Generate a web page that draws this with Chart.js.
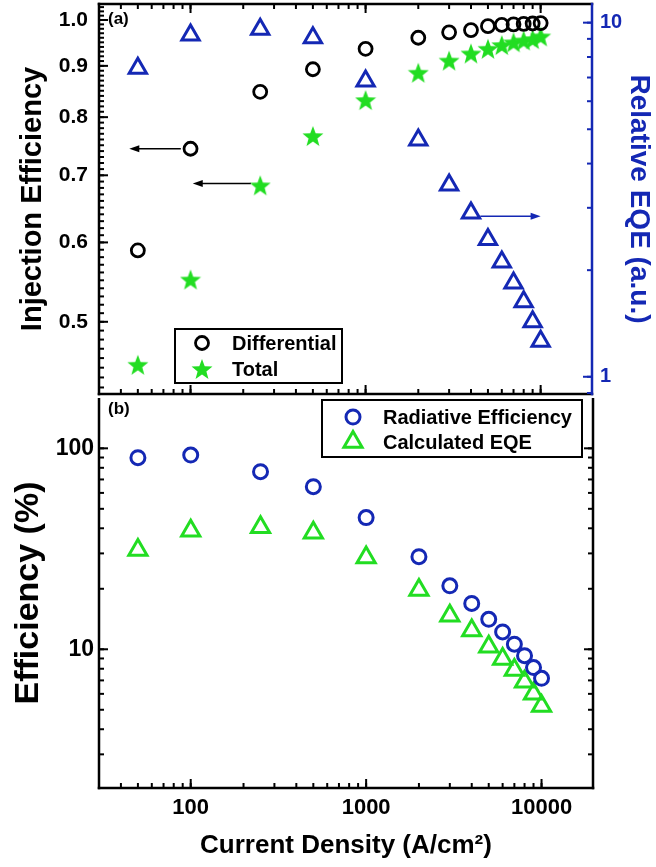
<!DOCTYPE html>
<html>
<head>
<meta charset="utf-8">
<script src="https://cdn.jsdelivr.net/npm/chart.js@4/dist/chart.umd.min.js"></script>
<style>
  html, body { margin: 0; padding: 0; background: #fff; }
  #wrap { position: relative; width: 656px; height: 867px; overflow: hidden; background: #fff; }
  #topChart { position: absolute; left: 0; top: 0; }
  #bottomChart { position: absolute; left: 0; top: 398px; }
</style>
</head>
<body>
<div id="wrap">
  <canvas id="topChart" width="656" height="398"></canvas>
  <canvas id="bottomChart" width="656" height="469"></canvas>
</div>
<script>
// current density (A/cm2), shared by both panels
const current = [50, 100, 250, 500, 1000, 2000, 3000, 4000, 5000, 6000, 7000, 8000, 9000, 10000];

// panel (a)
const differential = [0.589, 0.744, 0.848, 0.893, 0.936, 0.960, 0.972, 0.977, 0.986, 0.989, 0.990, 0.991, 0.992, 0.993];
const total = [0.453, 0.551, 0.684, 0.766, 0.832, 0.886, 0.911, 0.926, 0.936, 0.944, 0.950, 0.954, 0.957, 0.963];
const relativeEQE = [7.43, 9.23, 9.58, 9.07, 6.84, 4.66, 3.48, 2.90, 2.44, 2.11, 1.84, 1.63, 1.43, 1.26];

// panel (b)
const radiative = [89.8, 92.6, 76.5, 64.4, 45.2, 28.9, 20.7, 16.9, 14.1, 12.2, 10.6, 9.29, 8.11, 7.17];
const calcEQE = [31.2, 38.9, 40.5, 38.0, 28.6, 19.7, 14.7, 12.4, 10.3, 8.95, 7.89, 6.90, 6.00, 5.22];

// tick labels
const xTicks = [100, 1000, 10000];
const injTicks = [0.5, 0.6, 0.7, 0.8, 0.9, 1.0];
const eqeTicks = [1, 10];
const effTicks = [10, 100];

const BLUE = '#1428b4';
const GREEN = '#22dd22';
const FONT = "'Liberation Sans', Arial, sans-serif";

function pts(ys) {
    return current.map((x, i) => ({ x: x, y: ys[i] }));
}

// filled five point star used as point style
function makeStar(size, color) {
    const c = document.createElement('canvas');
    c.width = c.height = size;
    const g = c.getContext('2d');
    const R = size / 2, r = R * 0.42;
    g.beginPath();
    for (let i = 0; i < 10; i++) {
        const a = -Math.PI / 2 + i * Math.PI / 5;
        const rad = i % 2 ? r : R;
        g.lineTo(R + rad * Math.cos(a), R + 1 + rad * Math.sin(a));
    }
    g.closePath();
    g.fillStyle = color;
    g.fill();
    return c;
}
const star = makeStar(22, GREEN);

// log minor tick values (1..9 x 10^n) between min and max
function logMinor(min, max) {
    const out = [];
    for (let e = Math.floor(Math.log10(min)); e <= Math.ceil(Math.log10(max)); e++) {
        for (let m = 1; m < 10; m++) {
            const v = m * Math.pow(10, e);
            if (v >= min && v <= max) out.push(v);
        }
    }
    return out;
}

function drawMarker(ctx, ds, x, y) {
    ctx.save();
    if (ds.pointStyle instanceof HTMLCanvasElement) {
        ctx.drawImage(ds.pointStyle, x - ds.pointStyle.width / 2, y - ds.pointStyle.height / 2);
        ctx.restore();
        return;
    }
    ctx.strokeStyle = ds.borderColor;
    ctx.lineWidth = ds.pointBorderWidth;
    const r = ds.pointRadius;
    ctx.beginPath();
    if (ds.pointStyle === 'triangle') {
        for (let i = 0; i < 3; i++) {
            const a = i * 2 * Math.PI / 3;
            ctx.lineTo(x + Math.sin(a) * r, y - Math.cos(a) * r);
        }
        ctx.closePath();
    } else {
        ctx.arc(x, y, r, 0, Math.PI * 2);
    }
    ctx.stroke();
    ctx.restore();
}

// frame with inward ticks, drawn through the chart scales
const framePlugin = {
    id: 'frame',
    afterDraw(chart, args, opts) {
        const ctx = chart.ctx, a = chart.chartArea;
        ctx.save();
        ctx.lineCap = 'square';
        opts.sides.forEach(s => {
            const scale = chart.scales[s.scale];
            ctx.strokeStyle = s.color || '#000';
            ctx.lineWidth = 2.5;
            ctx.beginPath();
            if (s.edge === 'left') { ctx.moveTo(a.left, a.top); ctx.lineTo(a.left, a.bottom); }
            if (s.edge === 'right') { ctx.moveTo(a.right, a.top); ctx.lineTo(a.right, a.bottom); }
            if (s.edge === 'top') { ctx.moveTo(a.left, a.top); ctx.lineTo(a.right, a.top); }
            if (s.edge === 'bottom') { ctx.moveTo(a.left, a.bottom); ctx.lineTo(a.right, a.bottom); }
            ctx.stroke();
            ctx.lineWidth = 2;
            const put = (v, len) => {
                if (v < scale.min || v > scale.max) return;
                const p = scale.getPixelForValue(v);
                ctx.beginPath();
                if (s.edge === 'left') { ctx.moveTo(a.left, p); ctx.lineTo(a.left + len, p); }
                if (s.edge === 'right') { ctx.moveTo(a.right, p); ctx.lineTo(a.right - len, p); }
                if (s.edge === 'top') { ctx.moveTo(p, a.top); ctx.lineTo(p, a.top + len); }
                if (s.edge === 'bottom') { ctx.moveTo(p, a.bottom); ctx.lineTo(p, a.bottom - len); }
                ctx.stroke();
            };
            s.minor.forEach(v => put(v, 4));
            s.major.forEach(v => put(v, 8));
        });
        ctx.restore();
    }
};

// legend box placed inside the plot
const boxLegend = {
    id: 'boxLegend',
    afterDraw(chart, args, opts) {
        const ctx = chart.ctx, b = opts.box;
        ctx.save();
        ctx.strokeStyle = '#000';
        ctx.lineWidth = 2;
        ctx.strokeRect(b.left, b.top, b.right - b.left, b.bottom - b.top);
        ctx.font = 'bold 20px ' + FONT;
        ctx.fillStyle = '#000';
        ctx.textBaseline = 'middle';
        opts.items.forEach((idx, i) => {
            const ds = chart.data.datasets[idx];
            const y = opts.rowY[i];
            drawMarker(ctx, ds, opts.markerX, y);
            ctx.fillText(ds.label, opts.textX, y + 1);
        });
        ctx.restore();
    }
};

// arrows and the panel letter
const notes = {
    id: 'notes',
    afterDraw(chart, args, opts) {
        const ctx = chart.ctx, a = chart.chartArea;
        ctx.save();
        (opts.arrows || []).forEach(ar => {
            const xs = chart.scales.x, ys = chart.scales[ar.axis];
            const x1 = xs.getPixelForValue(ar.from), x2 = xs.getPixelForValue(ar.to);
            const y = ys.getPixelForValue(ar.y);
            const dir = x2 > x1 ? 1 : -1;
            ctx.strokeStyle = ar.color;
            ctx.fillStyle = ar.color;
            ctx.lineWidth = 1.6;
            ctx.beginPath();
            ctx.moveTo(x1, y);
            ctx.lineTo(x2 - dir * 8, y);
            ctx.stroke();
            ctx.beginPath();
            ctx.moveTo(x2, y);
            ctx.lineTo(x2 - dir * 10, y - 3.5);
            ctx.lineTo(x2 - dir * 10, y + 3.5);
            ctx.closePath();
            ctx.fill();
        });
        ctx.font = 'bold 17px ' + FONT;
        ctx.fillStyle = '#000';
        ctx.textBaseline = 'middle';
        ctx.fillText(opts.letter, a.left + 9, a.top + opts.letterY);
        ctx.restore();
    }
};

const xMinor = logMinor(30, 19650);

function fixedTicks(list) {
    return function (scale) {
        scale.ticks = list.map(v => ({ value: v }));
    };
}

// fix the axis box size and drop the label overflow padding
function fitTo(size) {
    return function (s) {
        if (s.isHorizontal()) s.height = size; else s.width = size;
        s.paddingTop = 0;
        s.paddingBottom = 0;
        s.paddingLeft = 0;
        s.paddingRight = 0;
    };
}

// ---- panel (a) ----
new Chart(document.getElementById('topChart'), {
    type: 'scatter',
    data: {
        datasets: [{
            label: 'Differential',
            data: pts(differential),
            yAxisID: 'y',
            pointStyle: 'circle',
            pointRadius: 6.5,
            pointBorderWidth: 2.8,
            borderColor: '#000',
            backgroundColor: 'rgba(0,0,0,0)'
        }, {
            label: 'Total',
            data: pts(total),
            yAxisID: 'y',
            pointStyle: star,
            pointRadius: 10,
            borderColor: GREEN,
            backgroundColor: GREEN
        }, {
            label: 'Relative EQE',
            data: pts(relativeEQE),
            yAxisID: 'y2',
            pointStyle: 'triangle',
            pointRadius: 10,
            pointBorderWidth: 3,
            borderColor: BLUE,
            backgroundColor: 'rgba(0,0,0,0)'
        }]
    },
    options: {
        responsive: false,
        animation: false,
        layout: { autoPadding: false, padding: { top: 4, bottom: 4, left: 0, right: 0 } },
        plugins: {
            legend: { display: false },
            tooltip: { enabled: false },
            frame: {
                sides: [
                    { edge: 'left', scale: 'y', major: injTicks, minor: Array.from({ length: 61 }, (_, k) => (43 + k) / 100) },
                    { edge: 'top', scale: 'x', major: xTicks, minor: xMinor },
                    { edge: 'bottom', scale: 'x', major: xTicks, minor: xMinor },
                    { edge: 'right', scale: 'y2', major: eqeTicks, minor: logMinor(0.894, 11.3), color: BLUE }
                ]
            },
            boxLegend: {
                box: { left: 175, top: 329, right: 342, bottom: 383 },
                items: [0, 1], markerX: 202, textX: 232, rowY: [343, 369]
            },
            notes: {
                letter: '(a)', letterY: 15,
                arrows: [
                    { axis: 'y', from: 88, to: 44.7, y: 0.744, color: '#000' },
                    { axis: 'y', from: 221, to: 103, y: 0.687, color: '#000' },
                    { axis: 'y2', from: 4520, to: 10000, y: 2.84, color: BLUE }
                ]
            }
        },
        scales: {
            x: { type: 'logarithmic', min: 30, max: 19650, display: false },
            y: {
                type: 'logarithmic', position: 'left', min: 0.4236, max: 1.0374,
                afterBuildTicks: fixedTicks(injTicks),
                afterFit: fitTo(99),
                grid: { display: false, drawTicks: false },
                border: { display: false },
                ticks: { autoSkip: false, padding: 11, color: '#000', font: { family: FONT, size: 21, weight: 'bold' }, callback: v => v.toFixed(1) },
                title: { display: true, text: 'Injection Efficiency', color: '#000', padding: { top: 16, bottom: 0 }, font: { family: FONT, size: 29, weight: 'bold' } }
            },
            y2: {
                type: 'logarithmic', position: 'right', min: 0.894, max: 11.29,
                afterBuildTicks: fixedTicks(eqeTicks),
                afterFit: fitTo(64),
                grid: { display: false, drawTicks: false },
                border: { display: false },
                ticks: { autoSkip: false, padding: 8, color: BLUE, font: { family: FONT, size: 20, weight: 'bold' }, callback: v => String(v) },
                title: { display: true, text: 'Relative EQE (a.u.)', color: BLUE, padding: { top: 0, bottom: 0 }, font: { family: FONT, size: 28, weight: 'bold' } }
            }
        }
    },
    plugins: [framePlugin, boxLegend, notes]
});

// ---- panel (b) ----
new Chart(document.getElementById('bottomChart'), {
    type: 'scatter',
    data: {
        datasets: [{
            label: 'Radiative Efficiency',
            data: pts(radiative),
            pointStyle: 'circle',
            pointRadius: 7,
            pointBorderWidth: 3,
            borderColor: BLUE,
            backgroundColor: 'rgba(0,0,0,0)'
        }, {
            label: 'Calculated EQE',
            data: pts(calcEQE),
            pointStyle: 'triangle',
            pointRadius: 10.5,
            pointBorderWidth: 3,
            borderColor: GREEN,
            backgroundColor: 'rgba(0,0,0,0)'
        }]
    },
    options: {
        responsive: false,
        animation: false,
        layout: { autoPadding: false, padding: { top: 0, bottom: 0, left: 0, right: 63 } },
        plugins: {
            legend: { display: false },
            tooltip: { enabled: false },
            frame: {
                sides: [
                    { edge: 'left', scale: 'y', major: effTicks, minor: logMinor(2.04, 178) },
                    { edge: 'right', scale: 'y', major: effTicks, minor: logMinor(2.04, 178) },
                    { edge: 'bottom', scale: 'x', major: xTicks, minor: xMinor }
                ]
            },
            boxLegend: {
                box: { left: 322, top: 2, right: 582, bottom: 59 },
                items: [0, 1], markerX: 353, textX: 383, rowY: [19, 44]
            },
            notes: { letter: '(b)', letterY: 11, arrows: [] }
        },
        scales: {
            x: {
                type: 'logarithmic', position: 'bottom', min: 30, max: 19650,
                afterBuildTicks: fixedTicks(xTicks),
                afterFit: fitTo(79),
                grid: { display: false, drawTicks: false },
                border: { display: false },
                ticks: { autoSkip: false, maxRotation: 0, padding: 7, color: '#000', font: { family: FONT, size: 22, weight: 'bold' }, callback: v => String(v) },
                title: { display: true, text: 'Current Density (A/cm²)', color: '#000', padding: { top: 0, bottom: 6 }, font: { family: FONT, size: 26, weight: 'bold' } }
            },
            y: {
                type: 'logarithmic', position: 'left', min: 2.04, max: 178,
                afterBuildTicks: fixedTicks(effTicks),
                afterFit: fitTo(99),
                grid: { display: false, drawTicks: false },
                border: { display: false },
                ticks: { autoSkip: false, padding: 5, color: '#000', font: { family: FONT, size: 23, weight: 'bold' }, callback: v => String(v) },
                title: { display: true, text: 'Efficiency (%)', color: '#000', padding: { top: 8, bottom: 0 }, font: { family: FONT, size: 34, weight: 'bold' } }
            }
        }
    },
    plugins: [framePlugin, boxLegend, notes]
});
</script>
</body>
</html>
